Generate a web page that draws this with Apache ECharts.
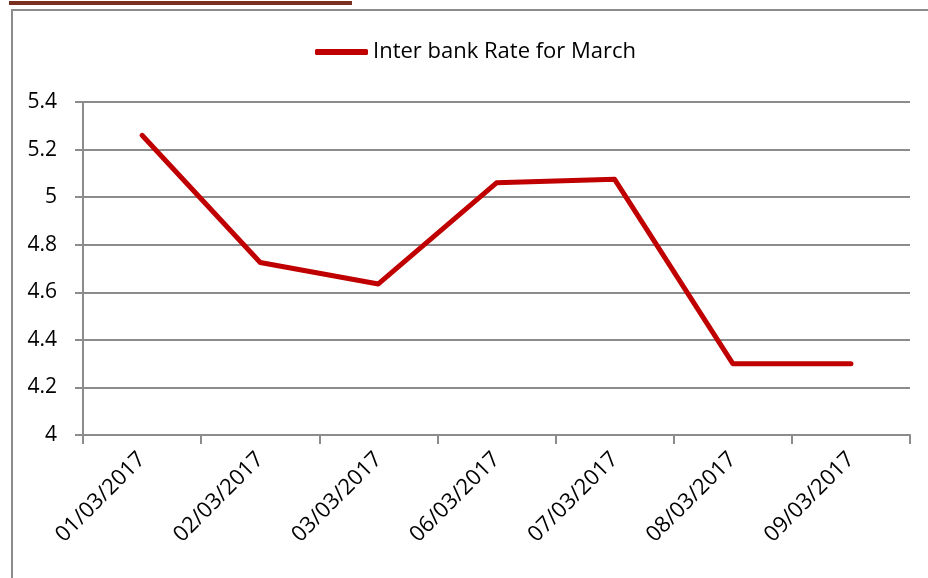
<!DOCTYPE html>
<html><head><meta charset="utf-8">
<script src="https://cdn.jsdelivr.net/npm/echarts@6/dist/echarts.min.js"></script>
<style>html,body{margin:0;padding:0;background:#fff}#c{width:928px;height:578px}</style>
</head><body><div id="c"></div>
<script>
const categories = ['01/03/2017','02/03/2017','03/03/2017','06/03/2017','07/03/2017','08/03/2017','09/03/2017'];
const rates = [5.26, 4.725, 4.635, 5.06, 5.075, 4.3, 4.3];
const seriesName = 'Inter bank Rate for March';

const chart = echarts.init(document.getElementById('c'), null, {renderer:'canvas'});
const font = "'Open Sans', 'Noto Sans', sans-serif";
chart.setOption({
  animation: false,
  backgroundColor: '#fff',
  graphic: [
    {type:'rect', shape:{x:9, y:1, width:343, height:4}, style:{fill:'#7a3020'}, silent:true},
    {type:'rect', shape:{x:12, y:10, width:930, height:600}, style:{fill:'none', stroke:'#8c8c8c', lineWidth:2}, silent:true}
  ],
  legend: {
    data: [seriesName],
    top: 36, left: 310,
    itemWidth: 53, itemHeight: 6, itemGap: 4,
    icon: 'roundRect',
    textStyle: {fontFamily: font, fontSize: 22, color: '#000', padding:[0,0,0,0]}
  },
  grid: {left: 83, right: 18, top: 102, bottom: 143, containLabel: false},
  xAxis: {
    type: 'category', data: categories, boundaryGap: true,
    axisLine: {lineStyle: {color: '#8c8c8c', width: 2}},
    axisTick: {show: true, length: 9, alignWithLabel: false, lineStyle: {color: '#8c8c8c', width: 2}},
    axisLabel: {rotate: 45, margin: 21, fontFamily: font, fontSize: 22, color: '#000'},
    splitLine: {show: false}
  },
  yAxis: {
    type: 'value', min: 4, max: 5.4, interval: 0.2,
    axisLine: {show: true, lineStyle: {color: '#8c8c8c', width: 2}},
    axisTick: {show: true, length: 8, lineStyle: {color: '#8c8c8c', width: 2}},
    axisLabel: {margin: 26, fontFamily: font, fontSize: 21, color: '#000',
      formatter: v => String(parseFloat(v.toFixed(1)))},
    splitLine: {show: true, lineStyle: {color: '#8c8c8c', width: 2}}
  },
  series: [{
    name: seriesName, type: 'line', data: rates,
    symbol: 'none', color: '#c00000',
    lineStyle: {width: 5, color: '#c00000', cap: 'round', join: 'round'}
  }]
});
</script></body></html>
